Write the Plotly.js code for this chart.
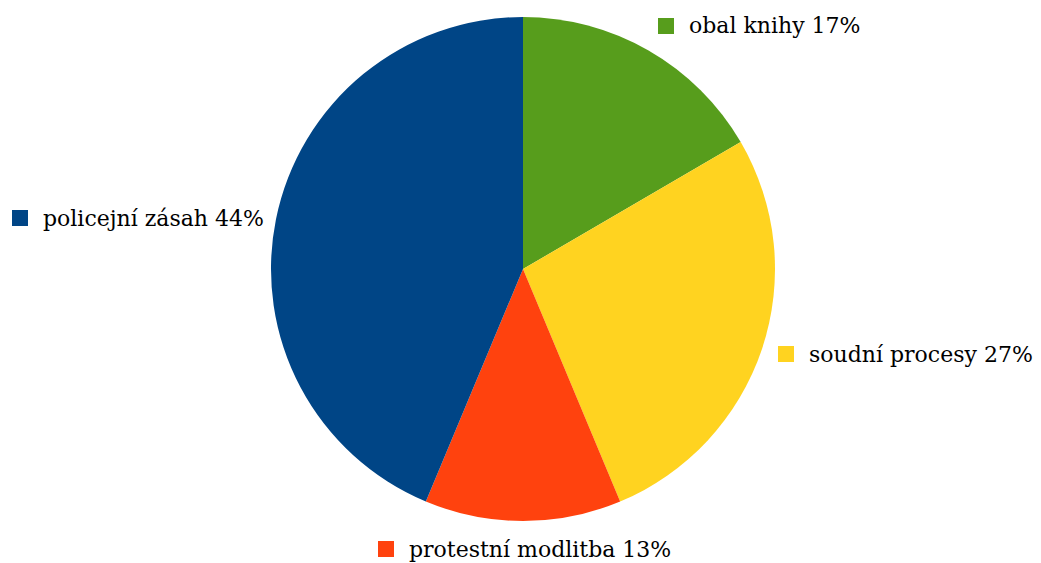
<!DOCTYPE html>
<html>
<head>
<meta charset="utf-8">
<script src="https://cdn.plot.ly/plotly-3.0.1.min.js"></script>
<style>html,body{margin:0;padding:0;background:#fff;}#chart{width:1041px;height:563px;}</style>
</head>
<body>
<div id="chart"></div>
<script>
const labels = ["obal knihy", "soudní procesy", "protestní modlitba", "policejní zásah"];
const values = [16.6, 27.1, 12.6, 43.7];
const colors = ["#579d1c", "#ffd320", "#ff420e", "#004586"];

const W = 1041, H = 563;
const total = values.reduce((a, b) => a + b, 0);
const pctText = values.map(v => Math.round(v / total * 100) + "%");

// label anchor positions in pixels (square left x, center y), layout only
const labelPos = [
  {x: 658, y: 26},
  {x: 778, y: 354},
  {x: 378, y: 549},
  {x: 12, y: 218}
];
const sq = 16;

const shapes = [], annotations = [];
labels.forEach((lab, i) => {
  const p = labelPos[i];
  shapes.push({
    type: "rect", xref: "paper", yref: "paper",
    x0: p.x / W, x1: (p.x + sq) / W,
    y0: 1 - (p.y + sq / 2) / H, y1: 1 - (p.y - sq / 2) / H,
    fillcolor: colors[i], line: {width: 0}
  });
  annotations.push({
    xref: "paper", yref: "paper",
    x: (p.x + 29) / W, y: 1 - p.y / H,
    xanchor: "left", yanchor: "middle",
    text: lab + " " + pctText[i],
    showarrow: false,
    font: {family: "DejaVu Serif", size: 22, color: "#000"}
  });
});

const cx = 523, cy = 269, r = 252;
const trace = {
  type: "pie",
  labels: labels,
  values: values,
  sort: false,
  direction: "clockwise",
  rotation: 0,
  textinfo: "none",
  hoverinfo: "label+percent",
  marker: {colors: colors, line: {width: 0}},
  domain: {
    x: [(cx - r) / W, (cx + r) / W],
    y: [1 - (cy + r) / H, 1 - (cy - r) / H]
  },
  showlegend: false
};

Plotly.newPlot("chart", [trace], {
  width: W, height: H,
  margin: {l: 0, r: 0, t: 0, b: 0},
  paper_bgcolor: "#fff",
  showlegend: false,
  shapes: shapes,
  annotations: annotations
}, {displayModeBar: false, staticPlot: true});
</script>
</body>
</html>
